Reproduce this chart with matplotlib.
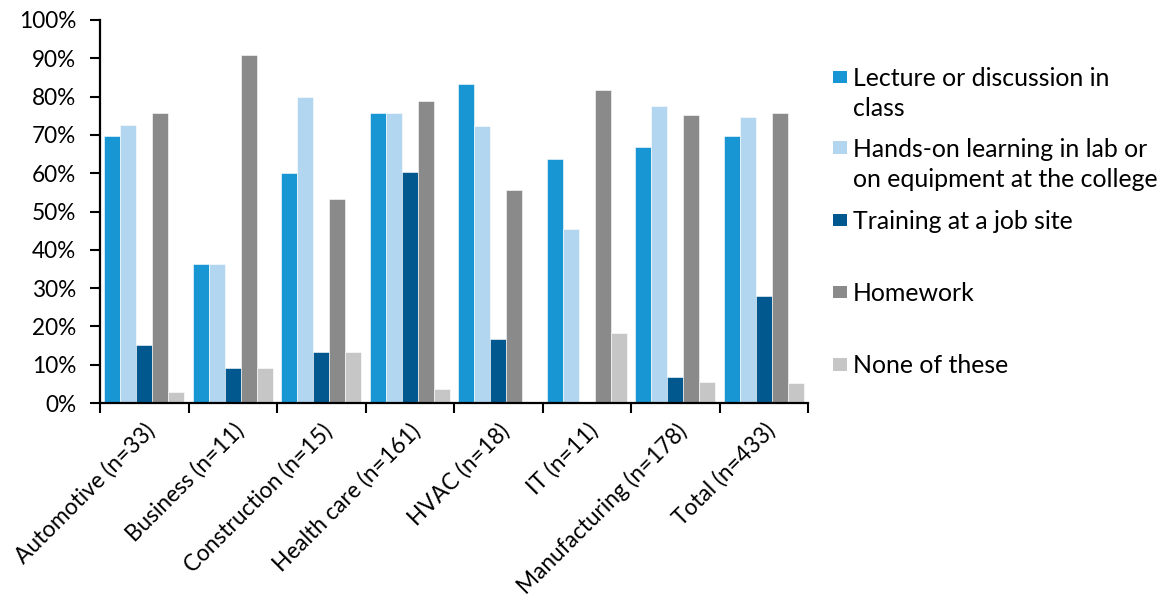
import numpy as np
import matplotlib
matplotlib.use("Agg")
import matplotlib.pyplot as plt
from matplotlib.patches import Rectangle
from matplotlib.ticker import PercentFormatter, FixedLocator

plt.rcParams['font.family'] = ['Lato', 'DejaVu Sans']

categories = ["Automotive (n=33)", "Business (n=11)", "Construction (n=15)",
              "Health care (n=161)", "HVAC (n=18)", "IT (n=11)",
              "Manufacturing (n=178)", "Total (n=433)"]

series_names = ["Lecture or discussion in\nclass",
                "Hands-on learning in lab or\non equipment at the college",
                "Training at a job site",
                "Homework",
                "None of these"]

lecture = [69.7, 36.4, 60.0, 75.8, 83.3, 63.6, 66.9, 69.7]
hands_on = [72.7, 36.4, 80.0, 75.8, 72.2, 45.5, 77.5, 74.8]
job_site = [15.2, 9.1, 13.3, 60.2, 16.7, 0.0, 6.7, 27.9]
homework = [75.8, 90.9, 53.3, 78.9, 55.6, 81.8, 75.3, 75.8]
none_of_these = [3.0, 9.1, 13.3, 3.7, 0.0, 18.2, 5.6, 5.1]

series = [lecture, hands_on, job_site, homework, none_of_these]
colors = ["#1896D3", "#B2D6F0", "#00588F", "#8A8A8A", "#C6C6C6"]

W, H = 1164, 597
fig = plt.figure(figsize=(W / 100, H / 100), dpi=100)
ax = fig.add_axes([100 / W, 1 - 403 / H, 708 / W, 383 / H])

x = np.arange(len(categories))
bw = 0.181
for i, (vals, col) in enumerate(zip(series, colors)):
    ax.bar(x + (i - 2) * bw, vals, width=bw, color=col,
           edgecolor="white", linewidth=0.4, zorder=2)

ax.set_xlim(-0.5, len(categories) - 0.5)
ax.set_ylim(0, 100)
ax.set_yticks(np.arange(0, 101, 10))
ax.yaxis.set_major_formatter(PercentFormatter(decimals=0))

ax.set_xticks(x)
ax.set_xticklabels(categories, rotation=45, ha="right", rotation_mode="anchor")
ax.xaxis.set_minor_locator(FixedLocator(np.arange(-0.5, len(categories), 1.0)))
ax.tick_params(axis="x", which="major", length=0, pad=12, labelsize=16.3)
ax.tick_params(axis="x", which="minor", length=7, width=1.5, direction="out")
ax.tick_params(axis="y", length=7, width=1.5, direction="out", pad=10, labelsize=16.3)

for side in ("top", "right"):
    ax.spines[side].set_visible(False)
for side in ("left", "bottom"):
    ax.spines[side].set_linewidth(1.6)
    ax.spines[side].set_zorder(3)

# legend drawn as swatches with wrapped labels on the right
baselines = [[85.7, 115.5], [156.7, 187.0], [229.0], [300.7], [373.3]]
for name, col, bl in zip(series_names, colors, baselines):
    sq_bottom = bl[0] - 2.5
    fig.patches.append(Rectangle((833.3 / W, 1 - sq_bottom / H), 13.3 / W, 12.7 / H,
                                 transform=fig.transFigure, facecolor=col,
                                 edgecolor="none"))
    for line, b in zip(name.split("\n"), bl):
        fig.text(853 / W, 1 - b / H, line, fontsize=17.9, va="baseline",
                 ha="left", color="black")

fig.savefig("out.png", dpi=100)
